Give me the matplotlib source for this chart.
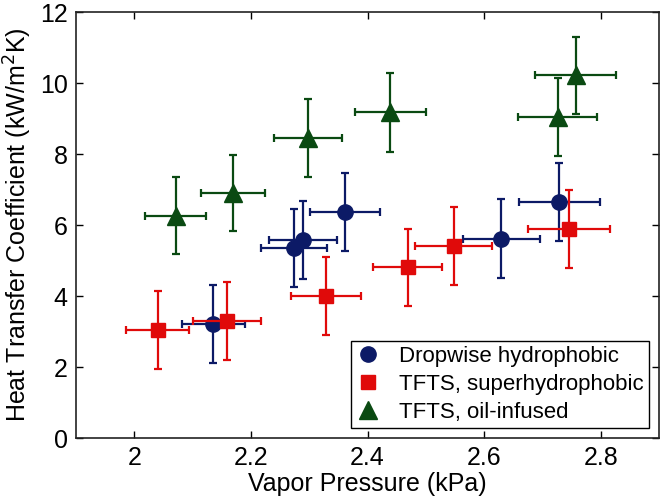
import matplotlib
matplotlib.use("Agg")
import matplotlib.pyplot as plt

plt.rcParams['font.family'] = ['Liberation Sans', 'DejaVu Sans']

# Dropwise hydrophobic
dw_x = [2.135, 2.274, 2.289, 2.361, 2.629, 2.729]
dw_y = [3.21, 5.35, 5.59, 6.37, 5.62, 6.65]
dw_xerr = [0.054, 0.057, 0.058, 0.060, 0.066, 0.069]
dw_yerr = [1.10, 1.10, 1.10, 1.10, 1.11, 1.10]

# TFTS, superhydrophobic
sh_x = [2.040, 2.159, 2.328, 2.469, 2.548, 2.746]
sh_y = [3.05, 3.30, 4.01, 4.81, 5.40, 5.90]
sh_xerr = [0.054, 0.058, 0.060, 0.059, 0.066, 0.070]
sh_yerr = [1.10, 1.10, 1.10, 1.09, 1.10, 1.10]

# TFTS, oil-infused
oi_x = [2.071, 2.169, 2.298, 2.439, 2.726, 2.757]
oi_y = [6.27, 6.90, 8.45, 9.18, 9.04, 10.22]
oi_xerr = [0.052, 0.055, 0.059, 0.061, 0.068, 0.069]
oi_yerr = [1.09, 1.08, 1.10, 1.11, 1.10, 1.08]

labels = ['Dropwise hydrophobic', 'TFTS, superhydrophobic', 'TFTS, oil-infused']
xticks = [2, 2.2, 2.4, 2.6, 2.8]
yticks = [0, 2, 4, 6, 8, 10, 12]

blue = '#0c1a66'
red = '#e00a0a'
green = '#0a4a12'

fig = plt.figure(figsize=(6.64, 5.03), dpi=100)
ax = fig.add_axes([0.1145, 0.129, 0.878, 0.847])

series = [
    (dw_x, dw_y, dw_xerr, dw_yerr, 'o', blue, 11),
    (sh_x, sh_y, sh_xerr, sh_yerr, 's', red, 10),
    (oi_x, oi_y, oi_xerr, oi_yerr, '^', green, 13),
]
handles = []
for (x, y, xe, ye, m, c, ms), lab in zip(series, labels):
    ax.errorbar(x, y, xerr=xe, yerr=ye, fmt='none', ecolor=c,
                elinewidth=1.6, capsize=3, capthick=1.6)
    h, = ax.plot(x, y, linestyle='none', marker=m, color=c,
                 markersize=ms, label=lab)
    handles.append(h)

ax.set_xlim(1.9, 2.9)
ax.set_ylim(0, 12)
ax.set_xticks(xticks)
ax.set_xticklabels([f'{t:g}' for t in xticks])
ax.set_yticks(yticks)
ax.tick_params(direction='in', top=True, right=True, labelsize=18,
               length=5, width=1, pad=6)
for s in ax.spines.values():
    s.set_linewidth(1.2)
    s.set_color('#222222')

ax.set_xlabel('Vapor Pressure (kPa)', fontsize=18, labelpad=1)
ax.set_ylabel('Heat Transfer Coefficient (kW/m$^2$K)', fontsize=18, labelpad=4)

leg = ax.legend(handles=handles, loc='lower right', fontsize=16,
                frameon=True, fancybox=False, edgecolor='black',
                handlelength=1.0, handletextpad=0.9, borderpad=0.25,
                labelspacing=0.3, borderaxespad=0.45, framealpha=1)
leg.get_frame().set_linewidth(1.0)

fig.savefig('out.png', dpi=100)
